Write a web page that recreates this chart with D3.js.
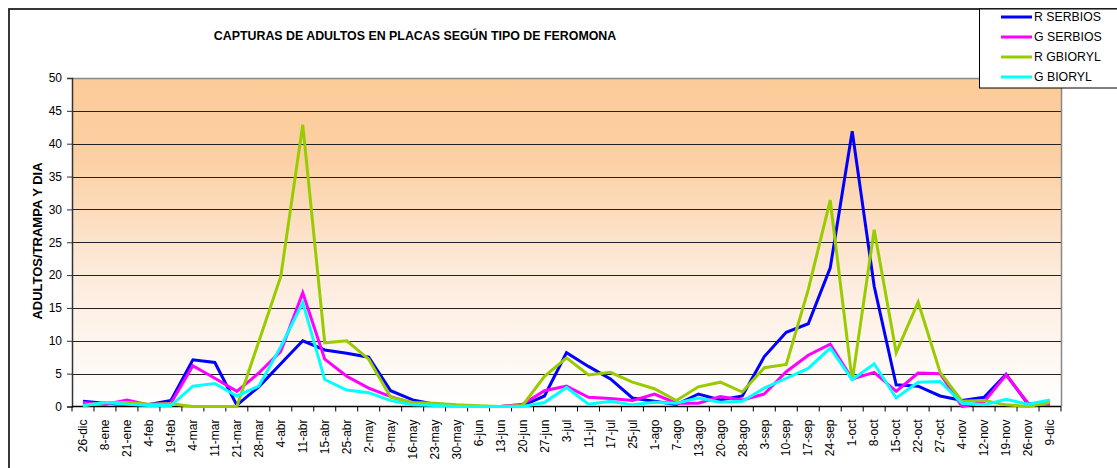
<!DOCTYPE html>
<html>
<head>
<meta charset="utf-8">
<script src="https://cdn.jsdelivr.net/npm/d3@7"></script>
<style>
  body { margin: 0; background: #fff; }
  svg { display: block; font-family: Arial, "Liberation Sans", sans-serif; }
</style>
</head>
<body>
<div id="chart"></div>
<script>
// fechas de muestreo
const fechas = ["26-dic","8-ene","21-ene","4-feb","19-feb","4-mar","11-mar","21-mar","28-mar","4-abr",
    "11-abr","15-abr","25-abr","2-may","9-may","16-may","23-may","30-may","6-jun","13-jun",
    "20-jun","27-jun","3-jul","11-jul","17-jul","25-jul","1-ago","7-ago","13-ago","20-ago",
    "28-ago","3-sep","10-sep","17-sep","24-sep","1-oct","8-oct","15-oct","22-oct","27-oct",
    "4-nov","12-nov","19-nov","26-nov","9-dic"];

const rSerbios = [0.8,0.5,0.3,0.3,0.9,7.1,6.7,0.2,3.0,6.5,
    10.0,8.6,8.1,7.5,2.4,1.0,0.35,0.15,0,0,
    0.15,1.6,8.2,6.1,4.2,1.3,0.8,0.3,1.9,1.0,
    1.6,7.6,11.3,12.6,21.1,41.9,18.3,3.3,3.1,1.6,
    0.9,1.4,4.9,0.35,0.5];

const gSerbios = [0.6,0.3,1.0,0.25,0.5,6.2,4.3,2.3,5.1,8.4,
    17.3,7.2,4.6,2.8,1.5,0.5,0.25,0.1,0,0,
    0.35,2.4,3.1,1.4,1.2,0.9,1.9,0.5,0.5,1.5,
    1.0,1.9,5.3,7.8,9.5,4.2,5.2,2.3,5.1,5.0,
    0,0.7,4.8,0.5,0.3];

const rGbioryl = [0.1,0.6,0.6,0.35,0.4,0,0,0,9.9,19.8,
    42.9,9.7,10.0,7.2,1.4,0.6,0.5,0.25,0.1,0,
    0.15,4.6,7.4,4.8,5.2,3.7,2.7,0.9,3.0,3.7,
    2.2,5.9,6.4,17.8,31.4,3.9,26.9,8.2,15.9,5.2,
    0.8,0.9,0.25,0,0.6];

const gBioryl = [0.15,0.6,0.35,0.15,0.15,3.1,3.5,1.6,3.1,9.1,
    15.8,4.1,2.5,2.1,0.9,0.25,0.15,0,0,0,
    0,0.6,2.9,0.35,0.8,0.25,0.65,0.5,1.3,0.65,
    0.8,2.8,4.3,5.8,8.9,4.1,6.5,1.3,3.7,3.8,
    0.5,0.25,1.1,0.35,1.0];

const series = [
    { name: "R SERBIOS", values: rSerbios, color: "#0000ff" },
    { name: "G SERBIOS", values: gSerbios, color: "#ff00ff" },
    { name: "R GBIORYL", values: rGbioryl, color: "#99cc00" },
    { name: "G BIORYL",  values: gBioryl,  color: "#00ffff" }
];

const yTicks = d3.range(0, 51, 5);

const svgWidth = 1117, svgHeight = 468;
const plot = { left: 72, right: 1061, top: 78, bottom: 406.5 };

const svg = d3.select("#chart").append("svg")
    .attr("width", svgWidth)
    .attr("height", svgHeight);

// marco del grafico
svg.append("rect")
    .attr("x", 9).attr("y", 9)
    .attr("width", svgWidth + 20).attr("height", svgHeight + 20)
    .attr("fill", "none")
    .attr("stroke", "#222")
    .attr("stroke-width", 1.8);

var x = d3.scaleBand()
    .domain(fechas)
    .range([plot.left, plot.right])
    .paddingInner(0).paddingOuter(0);

var y = d3.scaleLinear()
    .domain([0, 50])
    .range([plot.bottom, plot.top]);

// fondo degradado
const defs = svg.append("defs");
const grad = defs.append("linearGradient")
    .attr("id", "bg").attr("x1", 0).attr("y1", 0).attr("x2", 0).attr("y2", 1);
grad.append("stop").attr("offset", 0).attr("stop-color", "#fccb98");
grad.append("stop").attr("offset", 0.25).attr("stop-color", "#fcd0a4");
grad.append("stop").attr("offset", 0.6).attr("stop-color", "#fdebdc");
grad.append("stop").attr("offset", 1).attr("stop-color", "#ffffff");

svg.append("rect")
    .attr("x", plot.left).attr("y", plot.top)
    .attr("width", plot.right - plot.left)
    .attr("height", plot.bottom - plot.top)
    .attr("fill", "url(#bg)");

// lineas de rejilla
svg.append("g")
    .selectAll("line")
    .data(yTicks.filter(d => d > 0 && d < 50))
    .join("line")
    .attr("x1", plot.left).attr("x2", plot.right)
    .attr("y1", d => Math.round(y(d)) + 0.5)
    .attr("y2", d => Math.round(y(d)) + 0.5)
    .attr("stroke", "#222")
    .attr("stroke-width", 1);

// borde superior y derecho
svg.append("path")
    .attr("d", "M" + plot.left + "," + (plot.top + 0.5) + "H" + (plot.right + 0.5) + "V" + plot.bottom)
    .attr("fill", "none")
    .attr("stroke", "#888")
    .attr("stroke-width", 1.5);

// eje y
var yAxis = d3.axisLeft(y).tickValues(yTicks).tickSize(5).tickPadding(5);
var gY = svg.append("g")
    .attr("transform", "translate(" + plot.left + ",0)")
    .call(yAxis);
gY.select(".domain").attr("stroke", "#333").attr("stroke-width", 1.5);
gY.selectAll(".tick line").attr("stroke", "#333");
gY.selectAll(".tick text")
    .attr("font-size", 12)
    .attr("fill", "#000")
    .attr("font-family", "Arial, 'Liberation Sans', sans-serif");

// eje x
var xAxis = d3.axisBottom(x).tickSize(0).tickPadding(0);
var gX = svg.append("g")
    .attr("transform", "translate(0," + plot.bottom + ")")
    .call(xAxis);
gX.select(".domain").remove();
gX.selectAll(".tick text")
    .attr("font-size", 12)
    .attr("fill", "#000")
    .attr("font-family", "Arial, 'Liberation Sans', sans-serif")
    .attr("transform", "rotate(-90)")
    .attr("x", -13)
    .attr("y", 0)
    .attr("dy", "0.35em")
    .attr("text-anchor", "end");

gX.append("line")
    .attr("x1", plot.left).attr("x2", plot.right)
    .attr("y1", 0).attr("y2", 0)
    .attr("stroke", "#000")
    .attr("stroke-width", 1.5);

gX.selectAll(".xtick")
    .data(fechas.concat(["__fin"]))
    .join("line")
    .attr("class", "xtick")
    .attr("x1", d => d === "__fin" ? plot.right : x(d))
    .attr("x2", d => d === "__fin" ? plot.right : x(d))
    .attr("y1", 0).attr("y2", 5)
    .attr("stroke", "#000");

// series
var line = d3.line()
    .x((d, i) => x(fechas[i]) + x.bandwidth() / 2)
    .y(d => y(d));

svg.append("g")
    .selectAll("path")
    .data(series)
    .join("path")
    .attr("d", d => line(d.values))
    .attr("fill", "none")
    .attr("stroke", d => d.color)
    .attr("stroke-width", 3)
    .attr("stroke-linejoin", "miter");

// titulos
svg.append("text")
    .attr("x", 415)
    .attr("y", 40)
    .attr("text-anchor", "middle")
    .attr("font-size", 12.4)
    .attr("font-weight", "bold")
    .text("CAPTURAS DE ADULTOS EN PLACAS SEGÚN TIPO DE FEROMONA");

svg.append("text")
    .attr("transform", "translate(42,241) rotate(-90)")
    .attr("text-anchor", "middle")
    .attr("font-size", 13)
    .attr("font-weight", "bold")
    .text("ADULTOS/TRAMPA Y DIA");

// leyenda
var legend = svg.append("g");
legend.append("rect")
    .attr("x", 979.5).attr("y", 9)
    .attr("width", 150).attr("height", 79)
    .attr("fill", "#fff")
    .attr("stroke", "#000");

var items = legend.selectAll(".item")
    .data(series)
    .join("g")
    .attr("class", "item")
    .attr("transform", (d, i) => "translate(1001," + (17 + i * 20) + ")");

items.append("line")
    .attr("x1", 0).attr("x2", 31)
    .attr("stroke", d => d.color)
    .attr("stroke-width", 3);

items.append("text")
    .attr("x", 33)
    .attr("dy", "0.35em")
    .attr("font-size", 12.3)
    .text(d => d.name);
</script>
</body>
</html>
